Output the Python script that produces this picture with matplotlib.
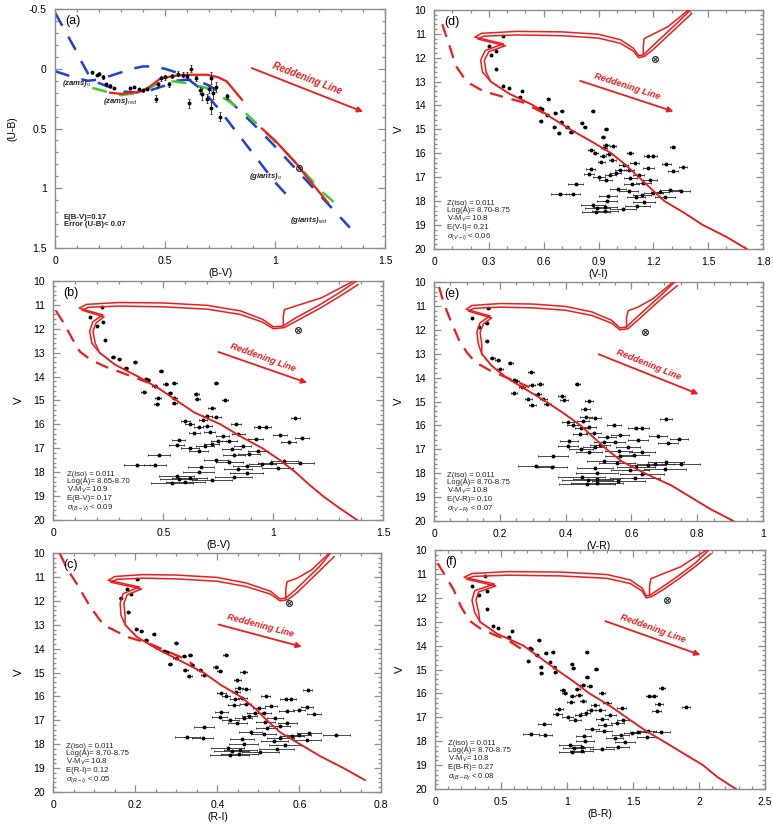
import numpy as np
import matplotlib
matplotlib.use("Agg")
import matplotlib.pyplot as plt
from matplotlib.ticker import MultipleLocator, FuncFormatter

plt.rcParams["font.family"] = ["Liberation Sans", "DejaVu Sans"]
plt.rcParams["mathtext.fontset"] = "custom"
plt.rcParams["mathtext.rm"] = "Liberation Sans"
plt.rcParams["mathtext.it"] = "Liberation Sans:italic"
plt.rcParams["mathtext.bf"] = "Liberation Sans:bold"

RED = "#ee1c1c"
BLUE = "#1f3fd8"
GREEN = "#3ccc2c"
FRAME = "#8c8c8c"
nan = np.nan

# ---- two-colour diagram (panel a) ----
ZO_BV = [0.0, 0.05, 0.10, 0.15, 0.20, 0.25, 0.30, 0.35, 0.40, 0.45, 0.50,
         0.55, 0.60, 0.65, 0.70, 0.75, 0.80, 0.85, 0.90, 0.95, 1.00, 1.05]
ZO_UB = [0.02, 0.05, 0.08, 0.10, 0.09, 0.06, 0.03, 0.0, -0.02, -0.02, 0.0,
         0.03, 0.08, 0.15, 0.24, 0.35, 0.47, 0.59, 0.71, 0.83, 0.95, 1.05]
ZS_BV = [0.0, 0.03, 0.06, 0.09, 0.12, 0.15, 0.20, 0.30, 0.40, 0.50, 0.55,
         0.60, 0.65, 0.70, 0.75, 0.80, 0.90, 1.00, 1.10, 1.20, 1.30, 1.34]
ZS_UB = [-0.47, -0.37, -0.27, -0.17, -0.06, 0.04, 0.12, 0.19, 0.20, 0.14, 0.10,
         0.09, 0.10, 0.14, 0.20, 0.28, 0.46, 0.65, 0.85, 1.05, 1.25, 1.33]
ZR_BV = [0.17, 0.25, 0.30, 0.39, 0.46, 0.54, 0.60, 0.69, 0.78, 0.86, 0.95,
         1.05, 1.15, 1.22, 1.27]
ZR_UB = [0.16, 0.20, 0.22, 0.20, 0.13, 0.105, 0.12, 0.16, 0.26, 0.36, 0.52,
         0.70, 0.90, 1.04, 1.12]
FIT_BV = [0.25, 0.30, 0.39, 0.43, 0.48, 0.54, 0.60, 0.69, 0.74, 0.78, 0.85,
          nan, 0.94, 1.00, 1.05, 1.10, 1.15, 1.20, 1.24]
FIT_UB = [0.20, 0.21, 0.19, 0.15, 0.08, 0.06, 0.05, 0.05, 0.07, 0.105, 0.26,
          nan, 0.50, 0.60, 0.70, 0.80, 0.92, 1.03, 1.12]

TCD_BV = [0.17, 0.19, 0.20, 0.22, 0.23, 0.25, 0.27, 0.34, 0.36, 0.38, 0.40,
          0.42, 0.46, 0.47, 0.48, 0.50, 0.52, 0.53, 0.56, 0.58, 0.60, 0.61,
          0.62, 0.64, 0.66, 0.67, 0.69, 0.70, 0.71, 0.71, 0.72, 0.73, 0.75, 0.78]
TCD_UB = [0.03, 0.05, 0.04, 0.07, 0.13, 0.14, 0.16, 0.16, 0.15, 0.17, 0.18,
          0.17, 0.25, 0.13, 0.08, 0.07, 0.13, 0.06, 0.04, 0.05, 0.06, 0.29,
          0.00, 0.08, 0.18, 0.21, 0.25, 0.17, 0.08, 0.33, 0.20, 0.15, 0.40, 0.23]
TCD_EUB = [0.01, 0.01, 0.01, 0.015, 0.01, 0.01, 0.01, 0.01, 0.01, 0.01, 0.015,
           0.01, 0.03, 0.02, 0.02, 0.02, 0.02, 0.02, 0.02, 0.02, 0.03, 0.04,
           0.03, 0.02, 0.03, 0.05, 0.04, 0.03, 0.05, 0.05, 0.05, 0.04, 0.04, 0.02]

# ---- isochrones: shared V nodes, colour per system ----
MS_V = [20.0, 19.5, 19.0, 18.5, 18.0, 17.5, 17.0, 16.5, 16.0, 15.5, 15.0,
        14.5, 14.0, 13.5, 13.0]
UP_V_A = [12.6, 12.1, 11.7, 11.42, 11.14, 10.98, 10.9, 10.92, 11.02, 11.25,
          11.6, 11.92, 11.88, 11.55, 11.05, 10.55, 10.02]
UP_V_B = [12.6, 12.1, 11.75, 11.5, 11.22, 11.1, 11.05, 11.08, 11.18, 11.4,
          11.72, 12.0, 11.95, 11.65, 11.15, 10.65, 10.15]
LOOP_V = [11.88, 11.5, 11.2, 11.05, 10.7, 10.02]

ms_bv = [1.38, 1.30, 1.225, 1.16, 1.10, 1.03, 0.95, 0.85, 0.76, 0.64, 0.56,
         0.48, 0.385, 0.28, 0.21]
ms_vi = [1.71, 1.60, 1.47, 1.37, 1.26, 1.19, 1.12, 1.05, 0.97, 0.86, 0.745,
         0.64, 0.545, 0.41, 0.31]
ms_vr = [0.91, 0.84, 0.78, 0.72, 0.64, 0.57, 0.525, 0.485, 0.445, 0.395, 0.34,
         0.28, 0.22, 0.175, 0.145]
ms_ri = [nan, 0.76, 0.708, 0.651, 0.602, 0.553, 0.521, 0.492, 0.456, 0.407,
         0.366, 0.309, 0.252, 0.203, 0.175]
ms_br = [2.28, 2.14, 2.03, 1.88, 1.73, 1.58, 1.45, 1.32, 1.17, 1.05, 0.92,
         0.795, 0.67, 0.47, 0.34]

up_bv_a = [0.175, 0.165, 0.18, 0.225, 0.118, 0.15, 0.3, 0.5, 0.7, 0.85, 0.95,
           1.0, 1.045, 1.1, 1.2, 1.29, 1.375]
up_bv_b = [0.19, 0.18, 0.195, 0.23, 0.13, 0.16, 0.3, 0.5, 0.7, 0.85, 0.95,
           1.0, 1.05, 1.11, 1.21, 1.3, 1.385]
up_vi_a = [0.265, 0.255, 0.28, 0.38, 0.223, 0.26, 0.45, 0.7, 0.9, 1.02, 1.09,
           1.12, 1.145, 1.19, 1.26, 1.33, 1.40]
up_vi_b = [0.285, 0.275, 0.30, 0.39, 0.24, 0.27, 0.45, 0.7, 0.9, 1.02, 1.09,
           1.12, 1.15, 1.2, 1.27, 1.34, 1.41]
up_vr_a = [0.135, 0.13, 0.14, 0.17, 0.098, 0.115, 0.2, 0.3, 0.4, 0.48, 0.54,
           0.565, 0.585, 0.61, 0.65, 0.69, 0.73]
up_vr_b = [0.145, 0.14, 0.15, 0.175, 0.105, 0.12, 0.2, 0.3, 0.4, 0.48, 0.54,
           0.565, 0.59, 0.615, 0.655, 0.695, 0.74]
up_ri_a = [0.165, 0.163, 0.17, 0.21, 0.134, 0.15, 0.22, 0.3, 0.4, 0.47, 0.53,
           0.553, 0.567, 0.59, 0.62, 0.65, 0.675]
up_ri_b = [0.175, 0.172, 0.18, 0.215, 0.14, 0.155, 0.22, 0.3, 0.4, 0.47, 0.53,
           0.553, 0.572, 0.595, 0.625, 0.655, 0.685]
up_br_a = [0.30, 0.28, 0.30, 0.45, 0.22, 0.28, 0.55, 0.95, 1.3, 1.48, 1.57,
           1.6, 1.63, 1.72, 1.85, 1.97, 2.07]
up_br_b = [0.33, 0.31, 0.33, 0.46, 0.24, 0.29, 0.55, 0.95, 1.3, 1.48, 1.57,
           1.6, 1.64, 1.73, 1.86, 1.98, 2.09]

loop_bv = [1.045, 1.045, 1.05, 1.1, 1.22, 1.36]
loop_vi = [1.145, 1.145, 1.15, 1.19, 1.28, 1.39]
loop_vr = [0.585, 0.585, 0.59, 0.62, 0.665, 0.725]
loop_ri = [0.567, 0.567, 0.57, 0.595, 0.63, 0.672]
loop_br = [1.625, 1.625, 1.635, 1.70, 1.86, 2.05]

# ---- ZAMS (dashed) per system ----
zams_bv = [0.012, 0.05, 0.085, 0.12, 0.17, 0.24, 0.33, 0.43]
zams_bv_v = [11.25, 11.8, 12.4, 12.95, 13.3, 13.6, 13.9, 14.25]
zams_vi = [0.045, 0.08, 0.12, 0.16, 0.20, 0.27, 0.36, 0.49, 0.62]
zams_vi_v = [10.6, 11.4, 12.35, 12.8, 13.1, 13.4, 13.6, 13.88, 14.4]
zams_vr = [0.015, 0.03, 0.05, 0.075, 0.10, 0.125, 0.17, 0.23, 0.29]
zams_vr_v = [10.2, 10.9, 11.6, 12.4, 12.95, 13.35, 13.7, 14.05, 14.4]
zams_ri = [0.016, 0.035, 0.057, 0.09, 0.122, 0.179, 0.236, 0.317, 0.34]
zams_ri_v = [10.03, 10.7, 11.28, 12.25, 13.0, 13.5, 13.8, 14.4, 14.65]
zams_br = [0.02, 0.08, 0.14, 0.20, 0.26, 0.34, 0.45, 0.56, 0.70]
zams_br_v = [10.55, 11.1, 11.65, 12.4, 12.95, 13.27, 13.55, 13.8, 14.3]

# ---- cluster stars ----
STAR_V = [11.08, 11.50, 11.72, 11.88, 12.47, 13.18, 13.25, 13.38, 13.65, 13.75,
          14.10, 14.15, 14.25, 14.25, 14.30, 14.40, 14.65, 14.68, 14.75, 14.88,
          14.90, 14.92, 14.97, 15.15, 15.12, 15.30, 15.65, 15.68, 15.75, 15.85,
          15.98, 15.80, 16.00, 16.05, 16.10, 16.10, 16.10, 16.35, 16.30, 16.40,
          16.48, 16.45, 16.58, 16.62, 16.65, 16.68, 16.70, 16.75, 16.82, 16.85,
          16.90, 16.92, 16.98, 17.05, 17.10, 17.10, 17.28, 17.30, 17.25, 17.50,
          17.55, 17.60, 17.62, 17.65, 17.70, 17.72, 17.75, 17.78, 17.82, 17.85,
          18.00, 18.05, 18.15, 18.22, 18.25, 18.28, 18.32, 18.40, 18.45, 17.58]
STAR_BV = [0.22, 0.165, 0.225, 0.20, 0.235, 0.27, 0.30, 0.37, 0.33, 0.49,
           0.42, 0.43, 0.55, 0.74, 0.51, 0.46, 0.41, 0.53, 0.65, 0.475,
           0.55, 0.655, 0.78, 0.47, 0.55, 0.72, 0.70, 0.74, 1.10, 0.60,
           0.62, 0.68, 0.83, 0.70, 0.66, 0.935, 0.965, 0.64, 0.71, 0.84,
           0.77, 1.03, 1.13, 0.92, 0.57, 0.75, 0.80, 1.07, 0.72, 0.56,
           0.86, 0.69, 0.62, 0.81, 0.66, 0.93, 0.48, 0.82, 0.89, 0.74,
           1.05, 1.12, 0.99, 0.95, 0.38, 0.46, 0.88, 0.67, 1.02, 0.84,
           0.66, 0.88, 0.56, 0.82, 0.62, 0.57, 0.72, 0.60, 0.54, 0.80]
STAR_VI = [0.38, 0.30, 0.34, 0.31, 0.34, 0.378, 0.41, 0.482, 0.47, 0.624,
           0.578, 0.588, 0.698, 0.869, 0.663, 0.62, 0.585, 0.695, 0.807, 0.659,
           0.728, 0.824, 0.941, 0.681, 0.75, 0.925, 0.941, 0.979, 1.305, 0.859,
           0.883, 0.929, 1.073, 0.958, 0.924, 1.171, 1.198, 0.915, 0.976, 1.097,
           1.038, 1.27, 1.362, 1.173, 0.858, 1.02, 1.065, 1.308, 0.993, 0.849,
           1.119, 0.965, 0.903, 1.074, 0.939, 1.182, 0.775, 1.082, 1.145, 1.009,
           1.289, 1.352, 1.236, 1.2, 0.688, 0.76, 1.138, 0.95, 1.265, 1.104,
           0.944, 1.148, 0.871, 1.113, 0.936, 0.894, 1.034, 0.935, 0.886, 1.064]
STAR_VR = [0.165, 0.115, 0.16, 0.137, 0.16, 0.177, 0.193, 0.232, 0.201, 0.294,
           0.242, 0.249, 0.322, 0.436, 0.298, 0.268, 0.242, 0.315, 0.388, 0.286,
           0.332, 0.395, 0.471, 0.299, 0.344, 0.46, 0.463, 0.489, 0.705, 0.407,
           0.421, 0.454, 0.547, 0.471, 0.448, 0.613, 0.631, 0.444, 0.485, 0.566,
           0.526, 0.681, 0.744, 0.62, 0.41, 0.518, 0.549, 0.712, 0.504, 0.408,
           0.589, 0.488, 0.446, 0.561, 0.47, 0.632, 0.362, 0.565, 0.608, 0.516,
           0.705, 0.75, 0.673, 0.65, 0.311, 0.36, 0.614, 0.49, 0.702, 0.596,
           0.496, 0.632, 0.449, 0.611, 0.494, 0.467, 0.56, 0.495, 0.464, 0.556]
STAR_RI = [0.205, 0.18, 0.19, 0.164, 0.183, 0.202, 0.215, 0.245, 0.227, 0.30,
           0.271, 0.277, 0.334, 0.42, 0.318, 0.298, 0.284, 0.338, 0.396, 0.322,
           0.357, 0.406, 0.464, 0.331, 0.367, 0.449, 0.452, 0.47, 0.62, 0.41,
           0.422, 0.445, 0.518, 0.461, 0.443, 0.567, 0.58, 0.44, 0.469, 0.531,
           0.501, 0.618, 0.60, 0.569, 0.41, 0.491, 0.513, 0.636, 0.478, 0.406,
           0.54, 0.464, 0.432, 0.517, 0.449, 0.571, 0.367, 0.52, 0.552, 0.482,
           0.624, 0.69, 0.599, 0.582, 0.327, 0.364, 0.554, 0.46, 0.619, 0.539,
           0.464, 0.565, 0.425, 0.545, 0.456, 0.435, 0.505, 0.454, 0.43, 0.513]
STAR_BR = [0.38, 0.28, 0.39, 0.33, 0.39, 0.437, 0.479, 0.585, 0.557, 0.786,
           0.717, 0.73, 0.892, 1.149, 0.838, 0.769, 0.707, 0.87, 1.036, 0.802,
           0.904, 1.046, 1.216, 0.805, 0.912, 1.149, 1.118, 1.171, 1.72, 0.967,
           0.983, 1.079, 1.265, 1.092, 1.041, 1.62, 1.66, 1.028, 1.12, 1.301,
           1.211, 1.70, 1.90, 1.413, 0.94, 1.183, 1.25, 1.68, 1.141, 0.925,
           1.329, 1.10, 1.005, 1.263, 1.063, 1.427, 0.828, 1.288, 1.38, 1.188,
           1.613, 1.713, 1.539, 1.489, 0.725, 0.835, 1.405, 1.125, 1.602, 1.362,
           1.136, 1.44, 1.022, 1.383, 1.116, 1.053, 1.262, 1.11, 1.036, 1.279]

ERR_BV = [0.005, 0.005, 0.005, 0.005, 0.005, 0.008, 0.008, 0.008, 0.01, 0.01,
          0.01, 0.01, 0.01, 0.01, 0.01, 0.01, 0.01, 0.01, 0.012, 0.012,
          0.012, 0.012, 0.015, 0.012, 0.012, 0.015, 0.02, 0.02, 0.02, 0.02,
          0.02, 0.02, 0.022, 0.022, 0.022, 0.025, 0.025, 0.025, 0.025, 0.03,
          0.03, 0.03, 0.03, 0.035, 0.03, 0.035, 0.035, 0.035, 0.035, 0.035,
          0.04, 0.04, 0.04, 0.045, 0.045, 0.045, 0.05, 0.05, 0.05, 0.055,
          0.06, 0.065, 0.06, 0.06, 0.06, 0.05, 0.065, 0.06, 0.07, 0.065,
          0.07, 0.075, 0.08, 0.085, 0.08, 0.085, 0.09, 0.09, 0.095, 0.06]
ERR_VI = [0.004, 0.004, 0.004, 0.004, 0.004, 0.006, 0.006, 0.006, 0.008, 0.008,
          0.008, 0.008, 0.008, 0.008, 0.008, 0.008, 0.008, 0.008, 0.01, 0.01,
          0.01, 0.01, 0.012, 0.01, 0.01, 0.012, 0.016, 0.016, 0.016, 0.016,
          0.016, 0.016, 0.018, 0.018, 0.018, 0.02, 0.02, 0.02, 0.02, 0.024,
          0.024, 0.024, 0.024, 0.028, 0.024, 0.028, 0.028, 0.028, 0.028, 0.028,
          0.032, 0.032, 0.032, 0.036, 0.036, 0.036, 0.04, 0.04, 0.04, 0.044,
          0.05, 0.05, 0.05, 0.05, 0.05, 0.04, 0.05, 0.05, 0.055, 0.05,
          0.055, 0.06, 0.065, 0.07, 0.065, 0.07, 0.07, 0.07, 0.075, 0.05]
ERR_VR = [0.004, 0.004, 0.004, 0.004, 0.004, 0.007, 0.007, 0.007, 0.009, 0.009,
          0.009, 0.009, 0.009, 0.009, 0.009, 0.009, 0.009, 0.009, 0.011, 0.011,
          0.011, 0.011, 0.013, 0.011, 0.011, 0.013, 0.018, 0.018, 0.018, 0.018,
          0.018, 0.018, 0.02, 0.02, 0.02, 0.022, 0.022, 0.022, 0.022, 0.027,
          0.027, 0.027, 0.027, 0.031, 0.027, 0.031, 0.031, 0.031, 0.031, 0.031,
          0.036, 0.036, 0.036, 0.04, 0.04, 0.04, 0.045, 0.045, 0.045, 0.05,
          0.055, 0.058, 0.055, 0.055, 0.055, 0.045, 0.058, 0.055, 0.063, 0.058,
          0.063, 0.068, 0.072, 0.077, 0.072, 0.077, 0.08, 0.08, 0.085, 0.055]
ERR_RI = [0.003, 0.003, 0.003, 0.003, 0.003, 0.004, 0.004, 0.004, 0.005, 0.005,
          0.005, 0.005, 0.005, 0.005, 0.005, 0.005, 0.005, 0.005, 0.006, 0.006,
          0.006, 0.006, 0.008, 0.006, 0.006, 0.008, 0.01, 0.01, 0.01, 0.01,
          0.01, 0.01, 0.011, 0.011, 0.011, 0.013, 0.013, 0.013, 0.013, 0.015,
          0.015, 0.015, 0.015, 0.018, 0.015, 0.018, 0.018, 0.018, 0.018, 0.018,
          0.02, 0.02, 0.02, 0.023, 0.023, 0.023, 0.025, 0.025, 0.025, 0.028,
          0.03, 0.033, 0.03, 0.03, 0.03, 0.025, 0.033, 0.03, 0.035, 0.033,
          0.035, 0.038, 0.04, 0.043, 0.04, 0.043, 0.045, 0.045, 0.048, 0.03]
ERR_BR = [0.005, 0.005, 0.005, 0.005, 0.005, 0.008, 0.008, 0.008, 0.01, 0.01,
          0.01, 0.01, 0.01, 0.01, 0.01, 0.01, 0.01, 0.01, 0.012, 0.012,
          0.012, 0.012, 0.015, 0.012, 0.012, 0.015, 0.02, 0.02, 0.02, 0.02,
          0.02, 0.02, 0.022, 0.022, 0.022, 0.025, 0.025, 0.025, 0.025, 0.03,
          0.03, 0.03, 0.03, 0.035, 0.03, 0.035, 0.035, 0.035, 0.035, 0.035,
          0.04, 0.04, 0.04, 0.045, 0.045, 0.045, 0.05, 0.05, 0.05, 0.055,
          0.06, 0.065, 0.06, 0.06, 0.06, 0.05, 0.065, 0.06, 0.07, 0.065,
          0.07, 0.075, 0.08, 0.085, 0.08, 0.085, 0.09, 0.09, 0.095, 0.06]

# red giant marked with a circled cross
GIANT_V = 12.07
GIANT_UB = 0.83
GIANT_BV, GIANT_VI, GIANT_VR, GIANT_RI, GIANT_BR = 1.11, 1.21, 0.642, 0.576, 1.755


def tidy(ax, xlim, ylim, xmaj, xmin, ymaj, ymin):
    ax.set_xlim(*xlim)
    ax.set_ylim(*ylim)
    ax.xaxis.set_major_locator(MultipleLocator(xmaj))
    ax.xaxis.set_minor_locator(MultipleLocator(xmin))
    ax.yaxis.set_major_locator(MultipleLocator(ymaj))
    ax.yaxis.set_minor_locator(MultipleLocator(ymin))
    fmt = FuncFormatter(lambda v, p: f"{round(v, 3):g}")
    ax.xaxis.set_major_formatter(fmt)
    ax.yaxis.set_major_formatter(fmt)
    ax.tick_params(which="both", direction="in", top=True, right=True,
                   color=FRAME, labelsize=7.5, width=0.9)
    ax.tick_params(which="major", length=5, pad=6)
    ax.tick_params(which="minor", length=2.5)
    for sp in ax.spines.values():
        sp.set_color(FRAME)
        sp.set_linewidth(1.0)


def mark_giant(ax, x, y):
    # small circled cross for the red-giant member
    ax.plot(x, y, marker="o", ms=4.2, mfc="none", mec="#222222", mew=0.8,
            zorder=4)
    ax.plot(x, y, marker="x", ms=2.6, color="#222222", mew=0.7, zorder=4)


def cmd_panel(ax, label, xlabel, xlim, xmaj, xmin, star_c, star_e,
              ms_c, up_a, up_b, loop_c, zams_c, zams_v, giant_c,
              arrow_from, arrow_to, arrow_angle, info):
    ax.errorbar(star_c, STAR_V, xerr=star_e, fmt="o", ms=1.8, color="black",
                ecolor="#2a2a2a", elinewidth=0.6, capsize=1.0, capthick=0.6,
                zorder=2)
    for up_c, up_v in ((up_a, UP_V_A), (up_b, UP_V_B)):
        ax.plot(list(ms_c) + list(up_c), MS_V + up_v, color=RED, lw=1.1,
                zorder=3)
    ax.plot(loop_c, LOOP_V, color=RED, lw=1.1, zorder=3)
    ax.plot(zams_c, zams_v, color=RED, lw=1.6, dashes=(6, 4), zorder=3)
    mark_giant(ax, giant_c, GIANT_V)
    ax.annotate("", xy=arrow_to, xytext=arrow_from,
                arrowprops=dict(arrowstyle="-|>", color=RED, lw=1.3,
                                mutation_scale=8, shrinkA=0, shrinkB=0))
    mid = ((arrow_from[0] + arrow_to[0]) / 2, (arrow_from[1] + arrow_to[1]) / 2)
    ax.annotate("Reddening Line", xy=mid, xytext=(0, 7),
                textcoords="offset points", rotation=arrow_angle,
                rotation_mode="anchor", ha="center", va="center", color=RED,
                fontsize=6.6, fontweight="bold", style="italic")
    ax.text(0.04, 0.205, "\n".join(info), transform=ax.transAxes,
            fontsize=5.6, va="top", ha="left", linespacing=1.0, color="#222222")
    ax.text(0.03, 0.975, label, transform=ax.transAxes, fontsize=9, va="top")
    tidy(ax, xlim, (20, 10), xmaj, xmin, 1, 0.2)
    ax.set_xlabel(xlabel, fontsize=7.5, labelpad=1)
    ax.set_ylabel("V", fontsize=8, labelpad=7)


fig = plt.figure(figsize=(7.73, 8.24), dpi=100)

# ---- (a) U-B vs B-V ----
ax = fig.add_axes([0.0712, 0.699, 0.427, 0.290])
ax.plot(ZO_BV, ZO_UB, color=BLUE, lw=1.8, dashes=(6, 5))
ax.plot(ZS_BV, ZS_UB, color=BLUE, lw=1.8, dashes=(6, 5))
ax.plot(ZR_BV, ZR_UB, color=GREEN, lw=1.8, dashes=(6, 5))
ax.plot(FIT_BV, FIT_UB, color=RED, lw=1.6)
ax.errorbar(TCD_BV, TCD_UB, yerr=TCD_EUB, fmt="o", ms=1.8, color="black",
            ecolor="#2a2a2a", elinewidth=0.6, capsize=1.0, capthick=0.6)
mark_giant(ax, GIANT_BV, GIANT_UB)
ax.annotate("", xy=(1.40, 0.36), xytext=(0.894, -0.006),
            arrowprops=dict(arrowstyle="-|>", color=RED, lw=1.3,
                            mutation_scale=8, shrinkA=0, shrinkB=0))
ax.annotate("Reddening Line", xy=(1.147, 0.177), xytext=(0, 8),
            textcoords="offset points", rotation=-21, rotation_mode="anchor",
            ha="center", va="center", color=RED, fontsize=7,
            fontweight="bold", style="italic")
lab = dict(fontsize=5.6, fontweight="bold", style="italic", color="#222222")
ax.text(0.03, 0.135, r"(zams)$_o$", **lab)
ax.text(0.22, 0.29, r"(zams)$_{red}$", **lab)
ax.text(0.88, 0.91, r"(giants)$_o$", **lab)
ax.text(1.07, 1.28, r"(giants)$_{red}$", **lab)
ax.text(0.04, 1.27, "E(B-V)=0.17\nError (U-B)< 0.07", fontsize=5.6,
        fontweight="bold", color="#222222", va="center", linespacing=1.0)
ax.text(0.03, 0.975, "(a)", transform=ax.transAxes, fontsize=9, va="top")
tidy(ax, (0, 1.5), (1.5, -0.5), 0.5, 0.1, 0.5, 0.1)
ax.set_xlabel("(B-V)", fontsize=7.5, labelpad=1)
ax.set_ylabel("(U-B)", fontsize=7.5, labelpad=8)

# ---- CMD panels ----
cmd_panel(fig.add_axes([0.0690, 0.369, 0.427, 0.290]), "(b)", "(B-V)",
          (0, 1.5), 0.5, 0.1, STAR_BV, ERR_BV, ms_bv, up_bv_a, up_bv_b,
          loop_bv, zams_bv, zams_bv_v, GIANT_BV, (0.75, 12.97), (1.153, 14.26),
          -20, ["Z(iso) = 0.011", "Log(A)= 8.65-8.70", r"V-M$_V$= 10.9",
                "E(B-V)= 0.17", r"$\sigma_{(B-V)}$ < 0.09"])
cmd_panel(fig.add_axes([0.5615, 0.698, 0.4256, 0.290]), "(d)", "(V-I)",
          (0, 1.8), 0.3, 0.1, STAR_VI, ERR_VI, ms_vi, up_vi_a, up_vi_b,
          loop_vi, zams_vi, zams_vi_v, GIANT_VI, (0.80, 12.97), (1.31, 14.25),
          -18, ["Z(iso) = 0.011", "Log(A)= 8.70-8.75", r"V-M$_V$= 10.8",
                "E(V-I)= 0.21", r"$\sigma_{(V-I)}$ < 0.06"])
cmd_panel(fig.add_axes([0.5615, 0.3677, 0.4256, 0.290]), "(e)", "(V-R)",
          (0, 1.0), 0.2, 0.05, STAR_VR, ERR_VR, ms_vr, up_vr_a, up_vr_b,
          loop_vr, zams_vr, zams_vr_v, GIANT_VR, (0.50, 13.02), (0.804, 14.69),
          -22, ["Z(iso) = 0.011", "Log(A)= 8.70-8.75", r"V-M$_V$= 10.8",
                "E(V-R)= 0.10", r"$\sigma_{(V-R)}$ < 0.07"])
cmd_panel(fig.add_axes([0.0690, 0.0388, 0.4243, 0.290]), "(c)", "(R-I)",
          (0, 0.8), 0.2, 0.05, STAR_RI, ERR_RI, ms_ri, up_ri_a, up_ri_b,
          loop_ri, zams_ri, zams_ri_v, GIANT_RI, (0.403, 12.99), (0.606, 13.92),
          -15, ["Z(iso) = 0.011", "Log(A)= 8.70-8.75", r"V-M$_V$= 10.8",
                "E(R-I)= 0.12", r"$\sigma_{(R-I)}$ < 0.05"])
cmd_panel(fig.add_axes([0.5628, 0.0424, 0.4269, 0.290]), "(f)", "(B-R)",
          (0, 2.5), 0.5, 0.1, STAR_BR, ERR_BR, ms_br, up_br_a, up_br_b,
          loop_br, zams_br, zams_br_v, GIANT_BR, (1.29, 12.97), (2.01, 14.39),
          -20, ["Z(iso) = 0.011", "Log(A)= 8.70-8.75", r"V-M$_V$= 10.8",
                "E(B-R)= 0.27", r"$\sigma_{(B-R)}$ < 0.08"])

fig.savefig("out.png", dpi=100, facecolor="white")
